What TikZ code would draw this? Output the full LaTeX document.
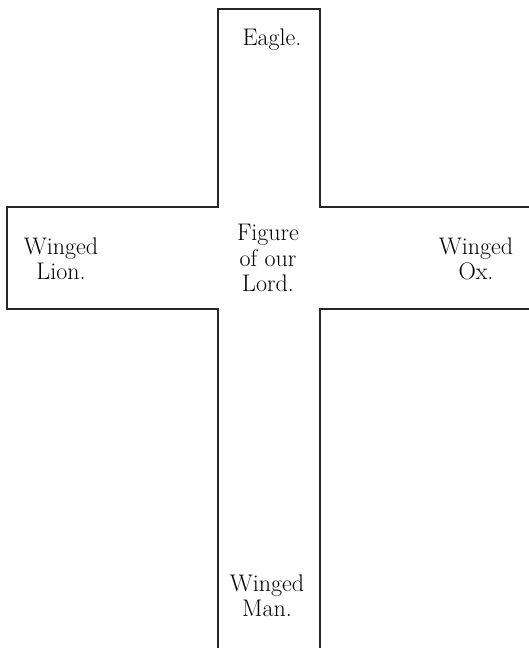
\documentclass[tikz,border=0pt]{standalone}
\usetikzlibrary{positioning}
\tikzset{
  every picture/.style={line width=1.1pt},
  label/.style={align=center, font=\fontsize{24}{25.5}\selectfont, inner sep=0pt},
  edge/.style={draw=black!85, line cap=rect},
}
\begin{document}
\begin{tikzpicture}[x=1pt, y=-1pt]
  \useasboundingbox (0,0) rectangle (528,648);

  % outline of the cross, open at right and bottom
  \draw[edge] (320,648) -- (320,309) -- (528,309);
  \draw[edge] (528,207) -- (320,207) -- (320,9) -- (218,9) -- (218,207)
    -- (7,207) -- (7,309) -- (218,309) -- (218,648);

  % texts
  \node[label] (eagle) at (272,40)  {Eagle.};
  \node[label] (lord)  at (268,258) {Figure\\of our\\Lord.};
  \node[label] (lion)  at (61,259)  {Winged\\Lion.};
  \node[label] (ox)    at (476,259) {Winged\\Ox.};
  \node[label] (man)   at (267,596) {Winged\\Man.};
\end{tikzpicture}
\end{document}
